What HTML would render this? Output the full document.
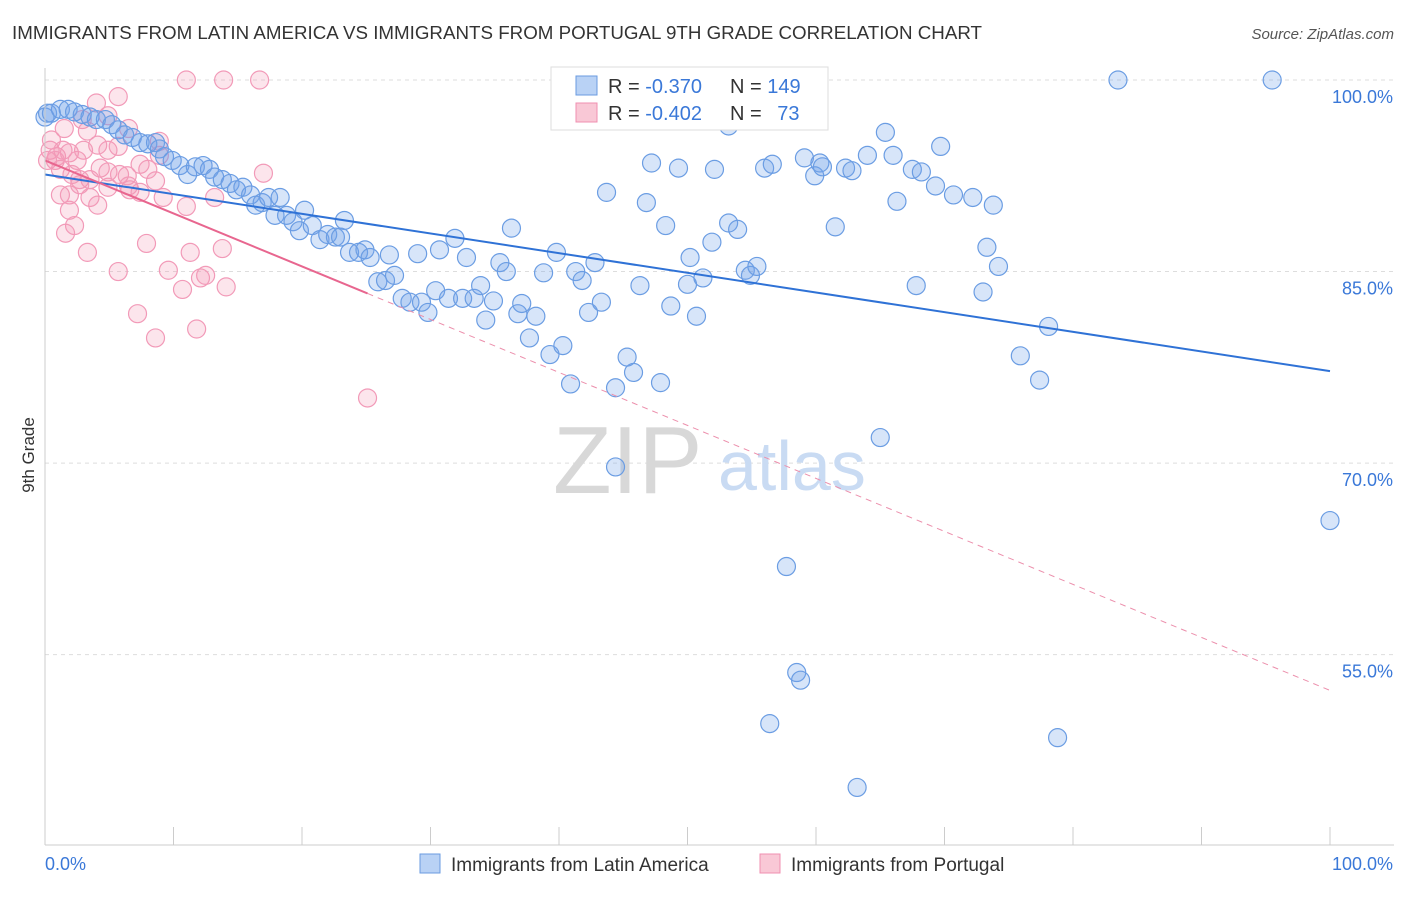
<!DOCTYPE html>
<html><head><meta charset="utf-8">
<style>
body{margin:0;background:#fff;font-family:"Liberation Sans",sans-serif;}
svg text{font-family:"Liberation Sans",sans-serif;}
</style></head>
<body>
<svg width="1406" height="892" viewBox="0 0 1406 892">
<text x="12" y="39" font-size="18" fill="#333" textLength="970" lengthAdjust="spacingAndGlyphs">IMMIGRANTS FROM LATIN AMERICA VS IMMIGRANTS FROM PORTUGAL 9TH GRADE CORRELATION CHART</text>
<text x="1394" y="39" font-size="15" fill="#555" text-anchor="end" font-style="italic">Source: ZipAtlas.com</text>
<g id="grid"></g>
<g>
<text x="553" y="493" font-size="96" fill="#d8d8d8" font-family="Liberation Serif">ZIP</text>
<text x="718" y="490" font-size="70" fill="#c9dbf3">atlas</text>
</g>
<g id="pts"></g>
<g id="lines"></g>
<g id="axes"></g>
<text transform="translate(34,455) rotate(-90)" font-size="17" fill="#333" text-anchor="middle">9th Grade</text>
<g>
<rect x="551" y="67" width="277" height="63" fill="#fff" stroke="#ddd"/>
<rect x="576" y="76" width="21" height="19" fill="#b9d2f5" stroke="#6a9be0"/>
<rect x="576" y="103" width="21" height="19" fill="#f9c8d6" stroke="#f08fb0"/>
<text x="608" y="93" font-size="20" fill="#333">R = <tspan fill="#3a78d8">-0.370</tspan></text>
<text x="730" y="93" font-size="20" fill="#333">N = <tspan fill="#3a78d8">149</tspan></text>
<text x="608" y="120" font-size="20" fill="#333">R = <tspan fill="#3a78d8">-0.402</tspan></text>
<text x="730" y="120" font-size="20" fill="#333">N = <tspan fill="#3a78d8" dx="10">73</tspan></text>
</g>
<g>
<rect x="420" y="854" width="20" height="19" fill="#b9d2f5" stroke="#6a9be0"/>
<text x="451" y="871" font-size="19" fill="#333">Immigrants from Latin America</text>
<rect x="760" y="854" width="20" height="19" fill="#f9c8d6" stroke="#f08fb0"/>
<text x="791" y="871" font-size="19" fill="#333">Immigrants from Portugal</text>
</g>
</svg>
<script>
const blueX=[0,0.2,0.5,1.2,1.8,2.3,2.9,3.5,4.0,4.7,5.2,5.7,6.2,6.8,7.4,8.0,8.6,8.9,9.3,9.9,10.5,11.1,11.7,12.3,12.8,13.2,13.8,14.4,14.9,15.4,16.0,16.4,16.9,17.4,17.9,18.3,18.8,19.3,19.8,20.2,20.8,21.4,22.0,22.6,23.0,23.3,23.7,24.4,24.9,25.3,25.9,26.5,26.8,27.2,27.8,28.4,29.0,29.3,29.8,30.4,30.7,31.4,31.9,32.5,32.8,33.4,33.9,34.3,34.9,35.4,35.9,36.3,36.8,37.1,37.7,38.2,38.8,39.3,39.8,40.3,40.9,41.3,41.8,42.3,42.8,43.3,43.7,44.4,45.3,45.8,46.3,46.8,47.2,47.9,48.3,48.7,49.3,50.2,50.7,51.2,51.9,52.1,53.2,53.9,54.5,54.9,55.4,53.2,56.0,56.4,56.6,57.7,58.5,58.8,59.1,59.9,60.3,60.5,61.5,62.3,62.8,63.2,64.0,65.0,65.4,66.0,66.3,67.5,67.8,68.2,69.3,69.7,70.7,72.2,73.0,73.3,73.8,74.2,75.9,77.4,78.1,78.8,83.5,95.5,100,44.4,50.0];
const blueY=[97.1,97.4,97.4,97.7,97.7,97.5,97.3,97.1,96.9,96.9,96.5,96.1,95.7,95.5,95.1,95.0,95.1,94.6,94.0,93.7,93.3,92.6,93.2,93.3,93.0,92.4,92.2,91.9,91.4,91.6,91.0,90.2,90.4,90.8,89.4,90.8,89.4,88.9,88.2,89.8,88.6,87.5,87.9,87.7,87.7,89.0,86.5,86.5,86.7,86.1,84.2,84.3,86.3,84.7,82.9,82.6,86.4,82.6,81.8,83.5,86.7,82.9,87.6,82.9,86.1,82.9,83.9,81.2,82.7,85.7,85.0,88.4,81.7,82.5,79.8,81.5,84.9,78.5,86.5,79.2,76.2,85.0,84.3,81.8,85.7,82.6,91.2,75.9,78.3,77.1,83.9,90.4,93.5,76.3,88.6,82.3,93.1,86.1,81.5,84.5,87.3,93.0,88.8,88.3,85.1,84.7,85.4,96.4,93.1,49.6,93.4,61.9,53.6,53.0,93.9,92.5,93.5,93.2,88.5,93.1,92.9,44.6,94.1,72.0,95.9,94.1,90.5,93.0,83.9,92.8,91.7,94.8,91.0,90.8,83.4,86.9,90.2,85.4,78.4,76.5,80.7,48.5,100,100,65.5,69.7,84.0];
const pinkX=[11.0,13.9,16.7,5.7,4.0,4.9,2.9,1.5,3.3,6.5,8.9,0.5,0.4,0.9,1.4,1.9,2.5,3.0,4.1,4.9,5.7,0.2,0.8,1.2,2.1,2.7,3.5,4.3,4.9,5.8,6.4,7.4,8.0,8.6,8.9,6.6,7.4,9.2,11.0,13.2,17.0,1.2,1.9,2.7,3.5,4.1,1.9,2.3,1.6,3.3,5.7,7.9,9.6,11.3,12.1,12.5,13.8,10.7,14.1,7.2,8.6,11.8,25.1,4.9,6.5];
const pinkY=[100,100,100,98.7,98.2,97.2,96.9,96.2,96.0,96.2,95.2,95.3,94.5,94.0,94.5,94.3,93.7,94.5,94.9,94.5,94.8,93.7,93.7,93.0,92.6,92.2,92.2,93.1,92.8,92.6,92.5,93.4,93.0,92.1,94.1,91.4,91.2,90.8,90.1,90.8,92.7,91.0,91.0,91.8,90.8,90.2,89.8,88.6,88.0,86.5,85.0,87.2,85.1,86.5,84.5,84.7,86.8,83.6,83.8,81.7,79.8,80.5,75.1,91.6,91.7];
const blueLine=[92.6,77.2];
const pinkLine=[93.7,52.2];
const pinkSolidEnd=25.1;
const yTicks=[100,85,70,55];
const yTickLabels=["100.0%","85.0%","70.0%","55.0%"];
const xTicks=[0,10,20,30,40,50,60,70,80,90,100];

const NS="http://www.w3.org/2000/svg";
const X=v=>45+v*12.85;
const Y=v=>80+(100-v)*12.77;
function mk(tag,attrs,parent){const e=document.createElementNS(NS,tag);for(const k in attrs)e.setAttribute(k,attrs[k]);parent.appendChild(e);return e;}
const grid=document.getElementById('grid'),axes=document.getElementById('axes'),pts=document.getElementById('pts'),lines=document.getElementById('lines');
yTicks.forEach((t,i)=>{
 const l=mk('line',{x1:45,x2:1394,y1:Y(t),y2:Y(t),stroke:'#ddd','stroke-dasharray':'4,4'},grid);
 
 
 const tx=mk('text',{x:1393,y:Y(t)+23,'font-size':18,fill:'#3a78d8','text-anchor':'end'},axes);
 tx.textContent=yTickLabels[i];
 
 
});
const ax=mk('line',{x1:45,x2:1394,y1:845,y2:845,stroke:'#ccc'},axes);


const ay=mk('line',{x1:45,x2:45,y1:68,y2:845,stroke:'#ccc'},axes);


xTicks.forEach(t=>{
 const l=mk('line',{x1:X(t),x2:X(t),y1:827,y2:845,stroke:'#ccc'},axes);
 
 
});
const xl0=mk('text',{x:45,y:870,'font-size':18,fill:'#3a78d8'},axes);xl0.textContent='0.0%';


const xl1=mk('text',{x:1393,y:870,'font-size':18,fill:'#3a78d8','text-anchor':'end'},axes);xl1.textContent='100.0%';


pinkX.forEach((v,i)=>{
 const c=mk('circle',{cx:X(v),cy:Y(pinkY[i]),r:9,fill:'rgba(244,150,180,0.25)',stroke:'#f29ab8','stroke-width':1.2},pts);
 
 
});
blueX.forEach((v,i)=>{
 const c=mk('circle',{cx:X(v),cy:Y(blueY[i]),r:9,fill:'rgba(110,160,235,0.28)',stroke:'#6b9de3','stroke-width':1.2},pts);
 
 
});
const bl=mk('line',{x1:X(0),y1:Y(blueLine[0]),x2:X(100),y2:Y(blueLine[1]),stroke:'#2f72d6','stroke-width':2},lines);


const pAt=x=>pinkLine[0]+(pinkLine[1]-pinkLine[0])*x/100;
const ps=mk('line',{x1:X(0),y1:Y(pAt(0)),x2:X(pinkSolidEnd),y2:Y(pAt(pinkSolidEnd)),stroke:'#e8668f','stroke-width':2},lines);


const pd=mk('line',{x1:X(pinkSolidEnd),y1:Y(pAt(pinkSolidEnd)),x2:X(100),y2:Y(pAt(100)),stroke:'#ec8fac','stroke-width':1,'stroke-dasharray':'6,5'},lines);


</script>
</body></html>
